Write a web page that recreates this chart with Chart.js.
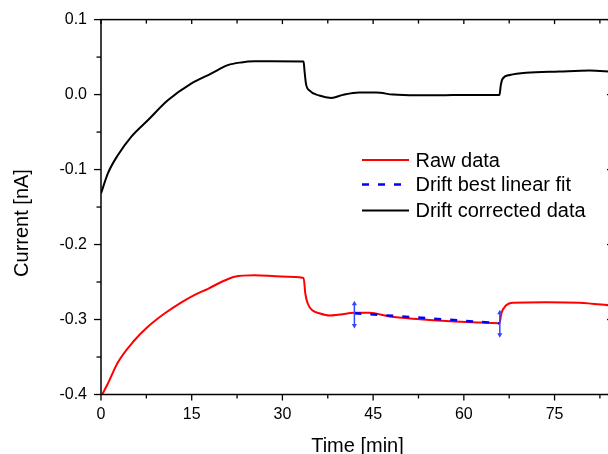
<!DOCTYPE html>
<html>
<head>
<meta charset="utf-8">
<script src="https://cdn.jsdelivr.net/npm/chart.js@4"></script>
<style>
html,body{margin:0;padding:0;overflow:hidden;background:#fff;}
canvas{display:block;}
</style>
</head>
<body>
<canvas id="c" width="620" height="454"></canvas>
<script>
// ---- data ----
const rawTime = [0.2, 1.1, 2.8, 5.5, 7.7, 10.5, 13.3, 15.5, 17.7, 19.9, 22.1, 25.4, 29.8, 33.5, 33.8, 34.2, 35.0, 36.2, 37.8, 39.2, 41.9, 44.4, 47.7, 52.7, 57.1, 61.5, 65.9, 66.2, 67.0, 68.1, 73.6, 79.1, 84.5];
const rawCurrent = [-0.400, -0.386, -0.357, -0.328, -0.310, -0.292, -0.277, -0.267, -0.259, -0.250, -0.243, -0.241, -0.2425, -0.2445, -0.266, -0.279, -0.288, -0.292, -0.2947, -0.2937, -0.291, -0.291, -0.296, -0.2996, -0.302, -0.3036, -0.305, -0.292, -0.281, -0.2777, -0.277, -0.2777, -0.2815];

const fitTime = [41.9, 65.9];
const fitCurrent = [-0.2915, -0.305];

const corrTime = [0, 1.12, 2.78, 4.99, 7.74, 11.05, 14.9, 18.2, 20.97, 23.2, 25.4, 27.3, 33.5, 33.65, 33.9, 34.5, 36.1, 38.1, 40.0, 42.7, 45.5, 48.3, 52.1, 56.0, 60.4, 65.9, 66.1, 66.4, 67.6, 70.3, 75.8, 80.8, 84.5];
const corrCurrent = [-0.132, -0.1053, -0.0809, -0.0563, -0.0343, -0.0076, 0.0147, 0.028, 0.0393, 0.0429, 0.0443, 0.0444, 0.0442, 0.032, 0.0143, 0.0053, -0.0013, -0.0044, -0.0004, 0.0027, 0.0027, 0.0, -0.0009, -0.0009, -0.0004, -0.0004, 0.012, 0.021, 0.026, 0.029, 0.0307, 0.032, 0.0305];

const arrowTime = [41.9, 65.95];
const arrowTop = [-0.279, -0.291];
const arrowBottom = [-0.308, -0.3204];

const xMajorTicks = [0, 15, 30, 45, 60, 75];
const xMinorTicks = [7.5, 22.5, 37.5, 52.5, 67.5, 82.5];
const yMajorTicks = [-0.4, -0.3, -0.2, -0.1, 0.0, 0.1];
const yMinorTicks = [-0.35, -0.25, -0.15, -0.05, 0.05];

const legendLabels = ['Raw data', 'Drift best linear fit', 'Drift corrected data'];
const xTitle = 'Time [min]';
const yTitle = 'Current [nA]';

// ---- build ----
const pts = (xs, ys) => xs.map((x, i) => ({x: x, y: ys[i]}));
const FONT = '"Liberation Sans", Arial, sans-serif';

const arrowSets = arrowTime.map((t, i) => ({
  data: [{x: t, y: arrowTop[i]}, {x: t, y: arrowBottom[i]}],
  showLine: true,
  borderColor: '#3347ff',
  backgroundColor: '#3347ff',
  borderWidth: 1.5,
  pointStyle: 'triangle',
  pointRadius: 3,
  pointRotation: [0, 180],
  pointBorderWidth: 0,
  order: 0
}));

const frameAndText = {
  id: 'frameAndText',
  afterDraw(chart) {
    const ctx = chart.ctx;
    const a = chart.chartArea;
    const xs = chart.scales.x, ys = chart.scales.y;
    ctx.save();
    ctx.strokeStyle = '#000';
    ctx.lineWidth = 1.5;
    ctx.strokeRect(a.left, a.top, a.right - a.left, a.bottom - a.top);
    ctx.lineWidth = 1.3;
    const line = (x1, y1, x2, y2) => { ctx.beginPath(); ctx.moveTo(x1, y1); ctx.lineTo(x2, y2); ctx.stroke(); };
    xMajorTicks.forEach(v => { const p = xs.getPixelForValue(v); line(p, a.bottom, p, a.bottom + 6); line(p, a.top, p, a.top + 4.5); });
    xMinorTicks.forEach(v => { const p = xs.getPixelForValue(v); line(p, a.bottom, p, a.bottom + 4); line(p, a.top, p, a.top + 4); });
    yMajorTicks.forEach(v => { const p = ys.getPixelForValue(v); line(a.left - 7, p, a.left, p); line(a.right - 5, p, a.right, p); });
    yMinorTicks.forEach(v => { const p = ys.getPixelForValue(v); line(a.left - 4.5, p, a.left, p); line(a.right - 3.5, p, a.right, p); });

    // axis titles
    ctx.fillStyle = '#000';
    ctx.font = '20px ' + FONT;
    ctx.textAlign = 'center';
    ctx.textBaseline = 'alphabetic';
    ctx.fillText(xTitle, (a.left + a.right) / 2 + 1, 452);
    ctx.save();
    ctx.translate(28, 223);
    ctx.rotate(-Math.PI / 2);
    ctx.fillText(yTitle, 0, 0);
    ctx.restore();

    // legend
    const ds = chart.data.datasets;
    const rows = [160, 184.5, 210.5];
    legendLabels.forEach((lab, i) => {
      const d = ds[i];
      ctx.save();
      ctx.strokeStyle = d.borderColor;
      ctx.lineWidth = i === 1 ? 2.5 : 2;
      ctx.setLineDash(d.borderDash || []);
      line(362, rows[i], 409, rows[i]);
      ctx.restore();
      ctx.textAlign = 'left';
      ctx.fillText(lab, 415.5, rows[i] + 6.8);
    });
    ctx.restore();
  }
};

new Chart(document.getElementById('c'), {
  type: 'scatter',
  data: {
    datasets: [
      { label: legendLabels[0], data: pts(rawTime, rawCurrent), showLine: true, borderColor: '#ff0000', borderWidth: 2, pointRadius: 0, cubicInterpolationMode: 'monotone', order: 2 },
      { label: legendLabels[1], data: pts(fitTime, fitCurrent), showLine: true, borderColor: '#0000ff', borderWidth: 2.5, borderDash: [7, 9], pointRadius: 0, order: 1 },
      { label: legendLabels[2], data: pts(corrTime, corrCurrent), showLine: true, borderColor: '#000000', borderWidth: 2, pointRadius: 0, cubicInterpolationMode: 'monotone', order: 3 },
      ...arrowSets
    ]
  },
  options: {
    responsive: false,
    animation: false,
    devicePixelRatio: 1,
    layout: { padding: { top: 12, right: 8, left: 0, bottom: 0 } },
    plugins: { legend: { display: false }, tooltip: { enabled: false } },
    scales: {
      x: {
        type: 'linear', min: 0, max: 84.5,
        grid: { display: false, drawTicks: false },
        border: { display: false },
        afterFit(s) { s.height = 59.5; },
        afterBuildTicks(s) { s.ticks = xMajorTicks.map(v => ({value: v})); },
        ticks: { color: '#000', font: { family: FONT, size: 16 }, padding: 10, maxRotation: 0, autoSkip: false, callback: v => String(v) }
      },
      y: {
        type: 'linear', min: -0.4, max: 0.1,
        grid: { display: false, drawTicks: false },
        border: { display: false },
        afterFit(s) { s.width = 101; },
        afterBuildTicks(s) { s.ticks = yMajorTicks.map(v => ({value: v})); },
        ticks: { color: '#000', font: { family: FONT, size: 16, lineHeight: 0.7 }, padding: 14, autoSkip: false, callback: v => (Math.round(v * 10) / 10 + 0).toFixed(1) }
      }
    }
  },
  plugins: [frameAndText]
});
</script>
</body>
</html>
